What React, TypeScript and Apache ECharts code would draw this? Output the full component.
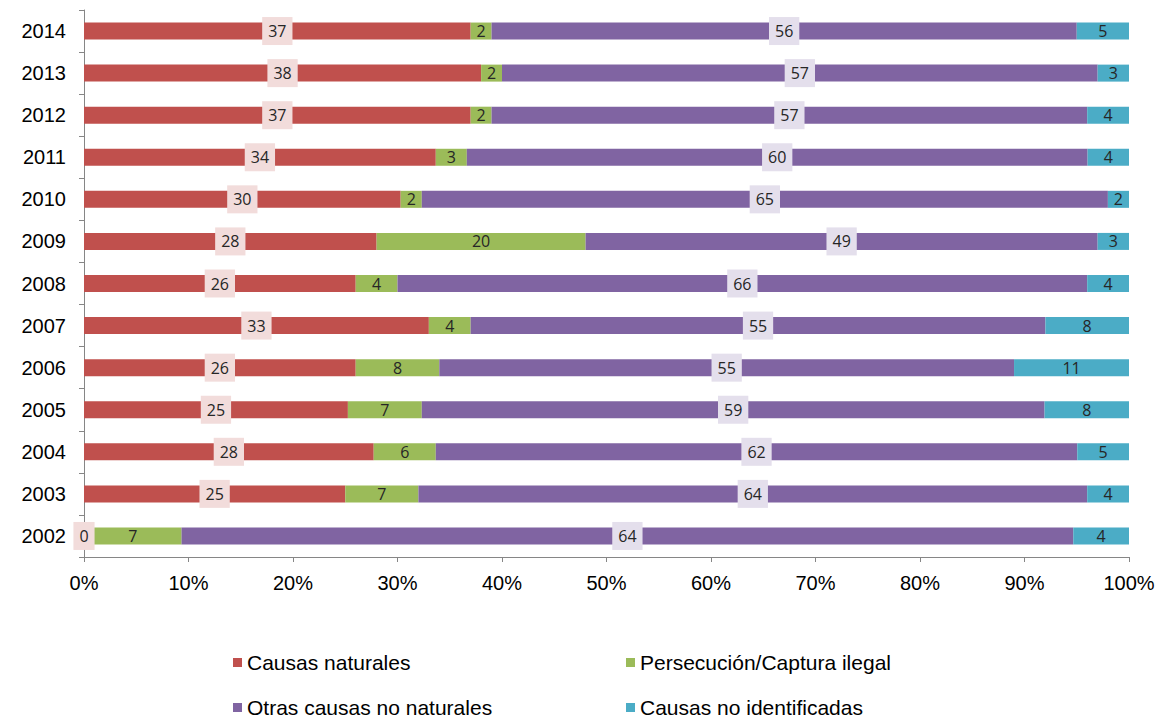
import React, { useEffect, useRef } from "react";
import * as echarts from "echarts";

const years = ["2002", "2003", "2004", "2005", "2006", "2007", "2008", "2009", "2010", "2011", "2012", "2013", "2014"];
const naturales = [0, 25, 28, 25, 26, 33, 26, 28, 30, 34, 37, 38, 37];
const persecucion = [7, 7, 6, 7, 8, 4, 4, 20, 2, 3, 2, 2, 2];
const otras = [64, 64, 62, 59, 55, 55, 66, 49, 65, 60, 57, 57, 56];
const noIdentificadas = [4, 4, 5, 8, 11, 8, 4, 3, 2, 4, 4, 3, 5];
const xTicks = ["0%", "10%", "20%", "30%", "40%", "50%", "60%", "70%", "80%", "90%", "100%"];

const names = ["Causas naturales", "Persecución/Captura ilegal", "Otras causas no naturales", "Causas no identificadas"];
const colors = ["#c0504d", "#9bbb59", "#8064a2", "#4bacc6"];
const labelBg = ["#f2dcdb", null, "#e4dfec", null];

export default function App() {
  const ref = useRef<HTMLDivElement>(null);
  useEffect(() => {
    if (!ref.current) return;
    const chart = echarts.init(ref.current, null, { renderer: "svg" });
    const all = [naturales, persecucion, otras, noIdentificadas];
    const totals = years.map((_, i) => all.reduce((s, a) => s + a[i], 0));
    const series = all.map((arr, k) => ({
      name: names[k],
      type: "bar",
      stack: "total",
      barWidth: 17,
      itemStyle: { color: colors[k] },
      data: arr.map((v, i) => (v / totals[i]) * 100),
      label: {
        show: true,
        position: "inside",
        fontFamily: "Open Sans",
        fontSize: 16,
        color: "#262626",
        backgroundColor: labelBg[k] || "transparent",
        padding: labelBg[k] ? [6, 6] : 0,
        formatter: (p: any) => String(arr[p.dataIndex]),
      },
    }));
    const legends = [
      { name: names[0], left: 233, top: 652 },
      { name: names[1], left: 626, top: 652 },
      { name: names[2], left: 233, top: 697 },
      { name: names[3], left: 626, top: 697 },
    ].map((l) => ({
      data: [l.name],
      left: l.left,
      top: l.top,
      icon: "rect",
      itemWidth: 9,
      itemHeight: 9,
      itemGap: 0,
      padding: 0,
      textStyle: { fontFamily: "Liberation Sans", fontSize: 21, color: "#000" },
    }));
    chart.setOption({
      animation: false,
      grid: { left: 84, right: 31, top: 10, bottom: 163 },
      legend: legends,
      xAxis: {
        type: "value",
        min: 0,
        max: 100,
        interval: 10,
        axisLine: { show: true, lineStyle: { color: "#868686" } },
        axisTick: { show: true, length: 5, lineStyle: { color: "#868686" } },
        splitLine: { show: false },
        axisLabel: {
          margin: 16,
          fontFamily: "Liberation Sans",
          fontSize: 20,
          color: "#000",
          formatter: (v: number) => xTicks[Math.round(v / 10)],
        },
      },
      yAxis: {
        type: "category",
        data: years,
        axisLine: { show: true, lineStyle: { color: "#868686" } },
        axisTick: { show: true, length: 5, lineStyle: { color: "#868686" } },
        axisLabel: { margin: 18, fontFamily: "Liberation Sans", fontSize: 20, color: "#000" },
      },
      series,
    });
    return () => chart.dispose();
  }, []);
  return <div ref={ref} style={{ position: "fixed", left: 0, top: 0, width: 1160, height: 720, background: "#fff" }} />;
}
